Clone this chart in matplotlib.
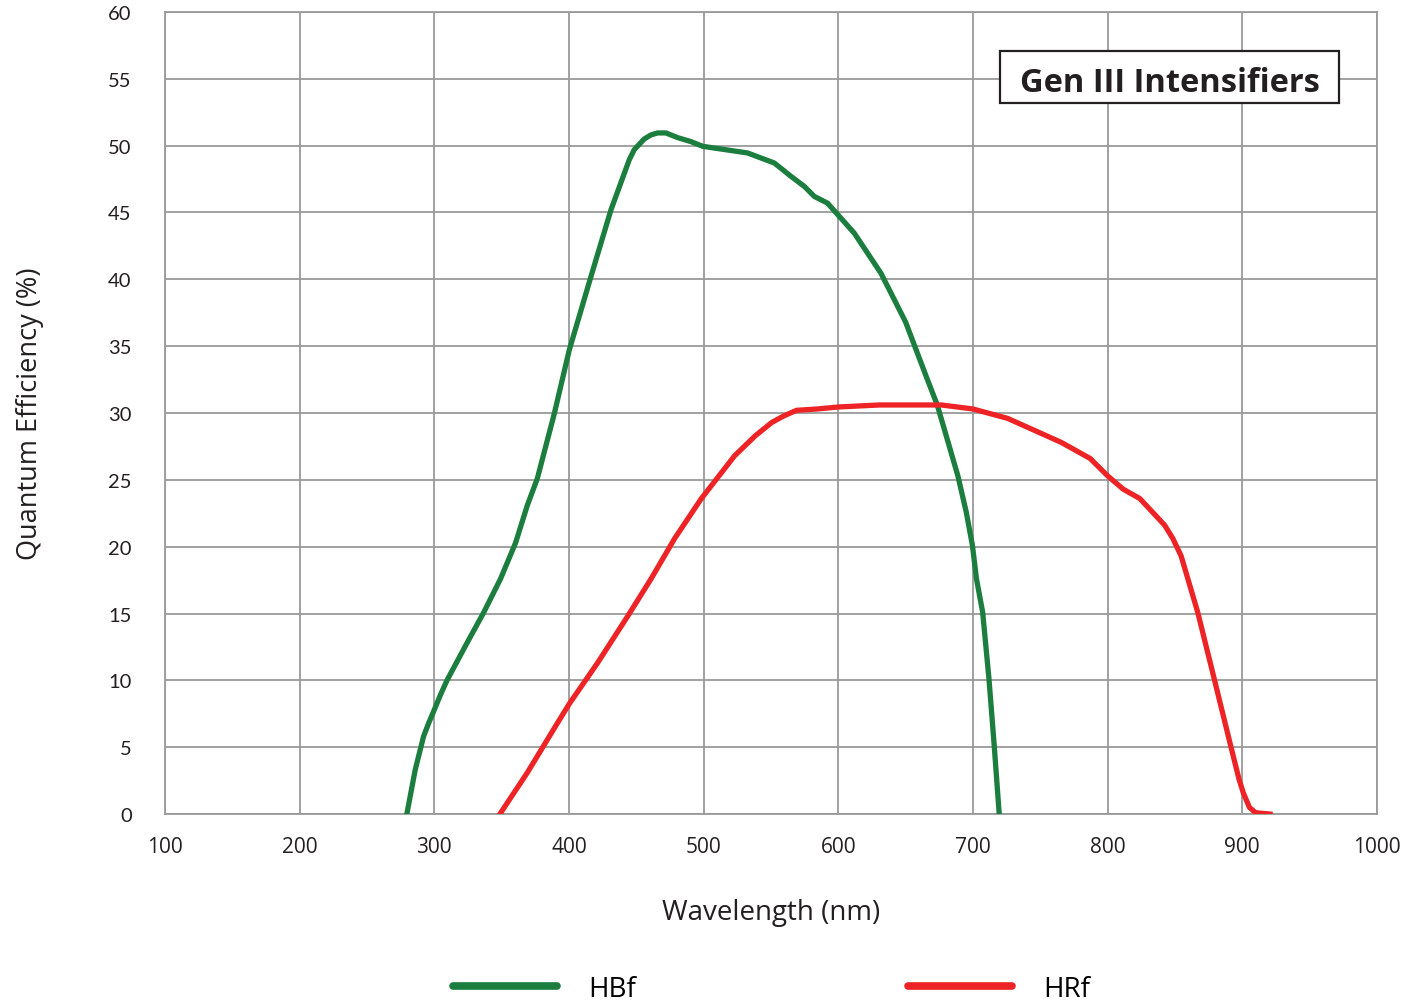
import matplotlib
matplotlib.use("Agg")
import matplotlib.pyplot as plt
from matplotlib.patches import Rectangle

# wavelength (nm) / quantum efficiency (%)
hbf_nm = [279.6, 285.8, 292, 295.8, 300, 304.5, 309.4, 324.3, 336.8, 349.2, 360.4, 369.1, 376.5,
          389.1, 400.2, 416.3, 431.2, 444.8, 448.5, 455.9, 460.9, 465.8, 472, 480.7, 490.6,
          499.3, 532.7, 552.5, 564.9, 574.8, 582.2, 592, 611.9, 631.7, 650, 665.8, 673.5,
          688.8, 695, 699.6, 702.6, 707.2, 711.9, 715.8, 719.5]
hbf_qe = [0, 3.3, 5.8, 6.8, 7.8, 8.9, 10.0, 12.8, 15.1, 17.6, 20.3, 23.1, 25.1,
          29.95, 34.7, 40.2, 45.2, 48.95, 49.7, 50.5, 50.8, 50.95, 50.95, 50.6, 50.3,
          49.95, 49.45, 48.7, 47.7, 46.95, 46.2, 45.7, 43.45, 40.45, 36.8, 32.6, 30.6,
          25.3, 22.6, 20.1, 17.6, 15.1, 10.1, 5.1, 0]

hrf_nm = [348.7, 369.1, 391.4, 400.6, 421.2, 443.6, 461, 478.4, 498.3, 523, 538.4,
          550.7, 559.9, 569, 584.4, 600, 630.5, 676.5, 700, 725.7, 765.6, 787, 800, 811.6,
          823.9, 833.2, 842.4, 848.5, 854.6, 866.9, 879.2, 891.4, 897.6, 900.7, 905.3,
          909.9, 920.6]
hrf_qe = [0, 3.1, 6.8, 8.3, 11.3, 14.8, 17.6, 20.6, 23.6, 26.8, 28.3,
          29.3, 29.8, 30.2, 30.3, 30.45, 30.6, 30.6, 30.3, 29.6, 27.8, 26.6, 25.3, 24.3,
          23.6, 22.6, 21.6, 20.6, 19.3, 15.1, 10.1, 5.1, 2.6, 1.6, 0.5,
          0.1, 0]

x_ticks = list(range(100, 1001, 100))
y_ticks = list(range(0, 61, 5))

sans = ["Open Sans", "DejaVu Sans"]
green = "#1b7e3e"
red = "#ee2326"
grid_col = "#9a9a9a"
ink = "#231f20"

fig = plt.figure(figsize=(14.21, 10.04), dpi=100)
ax = fig.add_axes([0.1161, 0.1882, 0.8529, 0.7989])

ax.plot(hbf_nm, hbf_qe, color=green, lw=3.8, solid_joinstyle="round", label="HBf", zorder=3)
ax.plot(hrf_nm, hrf_qe, color=red, lw=3.8, solid_joinstyle="round", label="HRf", zorder=3)

ax.set_xlim(100, 1000)
ax.set_ylim(0, 60)
ax.set_xticks(x_ticks)
ax.set_yticks(y_ticks)
ax.grid(True, color=grid_col, lw=1.3)
ax.set_axisbelow(True)
for s in ax.spines.values():
    s.set_color(grid_col)
    s.set_linewidth(1.3)
ax.tick_params(length=0, colors=ink)
ax.tick_params(axis="x", pad=16)
ax.tick_params(axis="y", pad=24)
for lab in ax.get_xticklabels():
    lab.set_family(sans)
    lab.set_fontsize(15)
for lab in ax.get_yticklabels():
    lab.set_family(["Lato", "DejaVu Sans"])
    lab.set_fontsize(14.5)

ax.set_xlabel("Wavelength (nm)", family=sans, fontsize=20, color=ink, labelpad=29)
ax.set_ylabel("Quantum Efficiency (%)", family=sans, fontsize=19.5, color=ink, labelpad=46)

# title box
ax.add_patch(Rectangle((0.689, 0.8865), 0.2797, 0.0649, transform=ax.transAxes,
                       facecolor="white", edgecolor=ink, lw=1.6, zorder=4))
ax.text(0.8288, 0.912, "Gen III Intensifiers", transform=ax.transAxes,
        ha="center", va="center", fontsize=23.5, fontweight="bold",
        family=sans, color=ink, zorder=5)

fig.legend(loc="lower center", bbox_to_anchor=(0.543, -0.025), ncol=2, frameon=False,
           prop={"family": sans, "size": 20}, handlelength=3.75, handletextpad=1.1,
           columnspacing=9.8)
leg = fig.legends[0]
for line in leg.get_lines():
    line.set_linewidth(5.5)
    line.set_solid_capstyle("round")

fig.savefig("out.png", dpi=100)
